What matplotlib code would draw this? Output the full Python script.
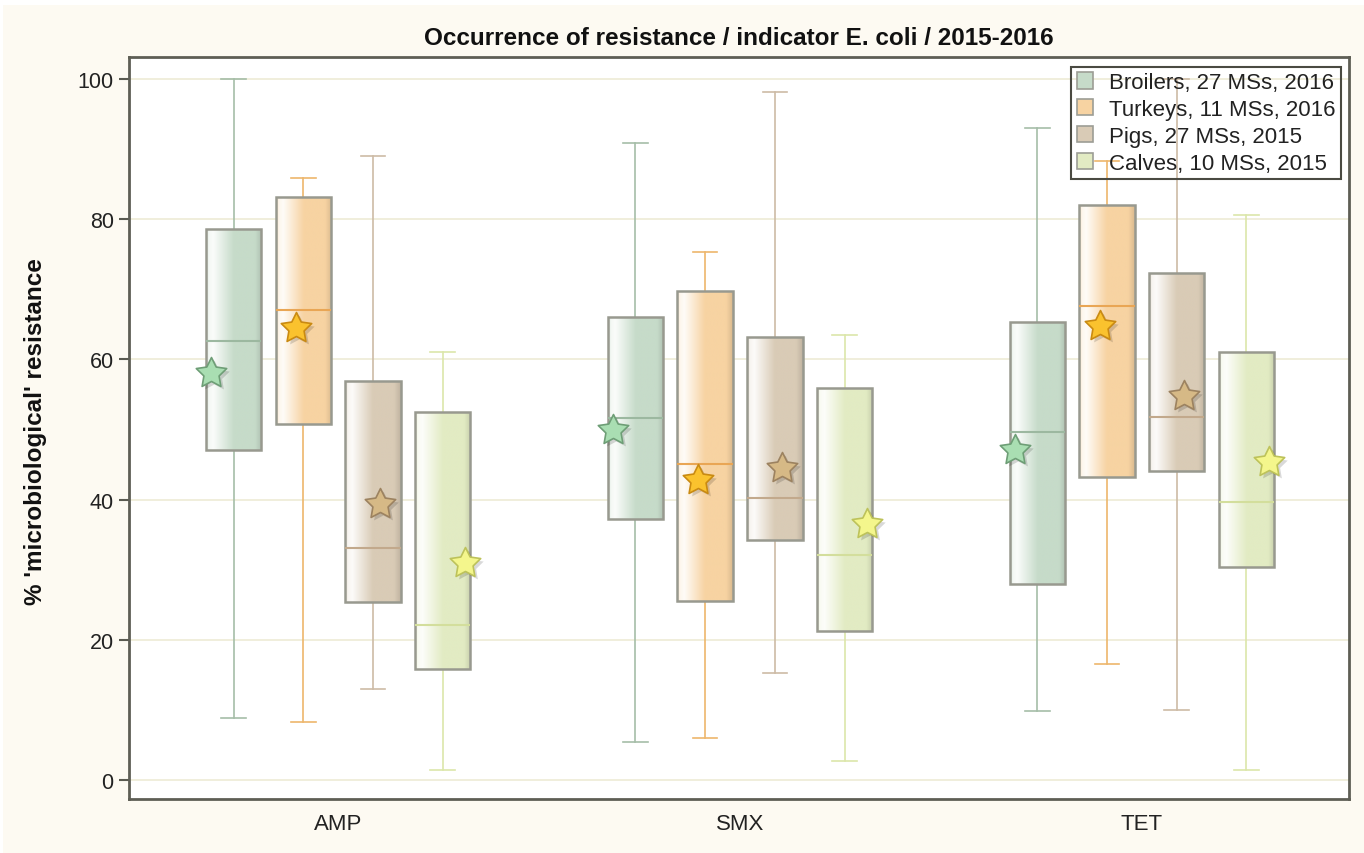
import numpy as np
import matplotlib
matplotlib.use("Agg")
import matplotlib.pyplot as plt
from matplotlib.colors import to_rgb
from matplotlib.patches import Rectangle, Patch
from matplotlib.path import Path
from matplotlib import transforms

plt.rcParams['font.family'] = ['Liberation Sans', 'DejaVu Sans']

categories = ['AMP', 'SMX', 'TET']
series = ['Broilers, 27 MSs, 2016', 'Turkeys, 11 MSs, 2016',
          'Pigs, 27 MSs, 2015', 'Calves, 10 MSs, 2015']

broilers_lo = [8.8, 5.4, 9.8]
broilers_q1 = [47.1, 37.2, 28.0]
broilers_med = [62.6, 51.6, 49.6]
broilers_q3 = [78.6, 66.0, 65.3]
broilers_hi = [100.0, 90.9, 93.0]
broilers_mean = [58.1, 49.9, 47.1]

turkeys_lo = [8.3, 6.0, 16.5]
turkeys_q1 = [50.8, 25.5, 43.2]
turkeys_med = [67.0, 45.1, 67.6]
turkeys_q3 = [83.2, 69.8, 82.0]
turkeys_hi = [85.9, 75.3, 88.3]
turkeys_mean = [64.5, 42.8, 64.8]

pigs_lo = [13.0, 15.3, 10.0]
pigs_q1 = [25.4, 34.2, 44.1]
pigs_med = [33.1, 40.2, 51.8]
pigs_q3 = [56.9, 63.2, 72.3]
pigs_hi = [89.0, 98.1, 100.0]
pigs_mean = [39.4, 44.5, 54.8]

calves_lo = [1.4, 2.7, 1.4]
calves_q1 = [15.8, 21.3, 30.4]
calves_med = [22.1, 32.1, 39.7]
calves_q3 = [52.5, 55.9, 61.1]
calves_hi = [61.1, 63.5, 80.6]
calves_mean = [31.0, 36.5, 45.4]

data = [
    (broilers_lo, broilers_q1, broilers_med, broilers_q3, broilers_hi, broilers_mean),
    (turkeys_lo, turkeys_q1, turkeys_med, turkeys_q3, turkeys_hi, turkeys_mean),
    (pigs_lo, pigs_q1, pigs_med, pigs_q3, pigs_hi, pigs_mean),
    (calves_lo, calves_q1, calves_med, calves_q3, calves_hi, calves_mean),
]

fills = ['#C6DBC9', '#F7D3A2', '#D9CBB6', '#E2EBC3']
medcols = ['#9CB8A0', '#E9A655', '#C2A98C', '#D3DE9C']
whiskcols = ['#A5BDA8', '#EDB66C', '#CDBBA6', '#DCE6AA']
starfill = ['#A9DEB2', '#FAC22E', '#D6B986', '#F4F68C']
staredge = ['#6E9E76', '#C98A12', '#9C8260', '#BDC25A']

box_off = [-0.26, -0.087, 0.087, 0.26]
star_off = [-0.316, -0.105, 0.105, 0.315]
box_w = 0.137

# fat five-pointed star marker
ang = np.pi / 2 + np.arange(10) * np.pi / 5
rad = np.where(np.arange(10) % 2 == 0, 1.0, 0.5)
verts = np.column_stack([rad * np.cos(ang), rad * np.sin(ang)])
verts = np.vstack([verts, verts[:1]])
star = Path(verts, [Path.MOVETO] + [Path.LINETO] * 9 + [Path.CLOSEPOLY])

bg = '#FDFAF2'
fig = plt.figure(figsize=(13.64, 8.54), dpi=100, facecolor='white')
fig.patches.append(Rectangle((3 / 1364, 0), 1, 1 - 6 / 854, transform=fig.transFigure,
                             facecolor=bg, edgecolor='none', zorder=-10))
ax = fig.add_axes([129 / 1364, 54 / 854, 1220 / 1364, 742 / 854])
ax.set_facecolor('white')

ax.set_xlim(-0.52, 2.515)
ax.set_ylim(-2.7, 103.1)
ax.set_yticks([0, 20, 40, 60, 80, 100])
ax.grid(axis='y', color='#EEEBD6', lw=1.2, zorder=0)
ax.set_axisbelow(True)
ax.set_xticks(range(len(categories)))
ax.set_xticklabels(categories)
ax.tick_params(axis='x', length=0, labelsize=16, pad=10, labelcolor='#222222')
ax.tick_params(axis='y', length=7, width=1.5, color='#5A5A50', labelsize=15.5,
               labelcolor='#222222', pad=4)
for s in ax.spines.values():
    s.set_color('#5E5E55')
    s.set_linewidth(2)

xs = np.arange(len(categories))
for si, (lo, q1, med, q3, hi, mean) in enumerate(data):
    stats = [dict(whislo=lo[i], q1=q1[i], med=med[i], q3=q3[i], whishi=hi[i], fliers=[])
             for i in range(len(categories))]
    pos = xs + box_off[si]
    bp = ax.bxp(stats, positions=pos, widths=box_w, capwidths=0.062, patch_artist=True,
                showfliers=False, manage_ticks=False,
                boxprops=dict(facecolor=fills[si], edgecolor='#98998F', linewidth=1.8),
                medianprops=dict(color=medcols[si], linewidth=1.5),
                whiskerprops=dict(color=whiskcols[si], linewidth=1.2),
                capprops=dict(color=whiskcols[si], linewidth=1.2), zorder=3)
    c = np.array(to_rgb(fills[si]))
    t = np.linspace(0, 1, 200)
    w = np.interp(t, [0, 0.05, 0.13, 0.5, 0.88, 1.0], [0.3, 0.8, 0.92, 0.0, 0.0, -0.12])
    grad = np.array([c + (1 - c) * wi if wi >= 0 else c * (1 + wi) for wi in w])
    grad = np.clip(grad, 0, 1)[None, :, :]
    for i, b in enumerate(bp['boxes']):
        x0 = pos[i] - box_w / 2
        im = ax.imshow(grad, extent=[x0, x0 + box_w, q1[i], q3[i]], aspect='auto',
                       zorder=3.2, interpolation='bilinear')
        im.set_clip_path(b)
        b.set_facecolor('none')
        b.set_zorder(3.5)
    for m in bp['medians']:
        m.set_zorder(3.6)
    sx = xs + star_off[si]
    shadow_tr = transforms.offset_copy(ax.transData, fig=fig, x=3, y=-3, units='dots')
    ax.plot(sx, mean, ls='none', marker=star, ms=23, color='#000000', alpha=0.15,
            mec='none', transform=shadow_tr, zorder=4)
    ax.plot(sx, mean, ls='none', marker=star, ms=23, mfc=starfill[si], mec=staredge[si],
            mew=1.2, zorder=5)

handles = [Patch(facecolor=fills[i], edgecolor='#9C9D95', linewidth=1.2) for i in range(4)]
leg = ax.legend(handles, series, loc='upper right', bbox_to_anchor=(0.9935, 0.987),
                fontsize=16, frameon=True, fancybox=False,
                handlelength=0.75, handleheight=0.75, handletextpad=0.7,
                labelspacing=0.26, borderpad=0.25, borderaxespad=0)
fr = leg.get_frame()
fr.set_facecolor('none')
fr.set_alpha(1)
fr.set_edgecolor('#4A4A42')
fr.set_linewidth(1.5)
for t in leg.get_texts():
    t.set_color('#222222')

fig.text((129 + 1349) / 2 / 1364, 1 - 38.5 / 854, 'Occurrence of resistance / indicator E. coli / 2015-2016',
         ha='center', va='center', fontsize=17.5, fontweight='bold', color='#111111')
fig.text(36 / 1364, 1 - 432 / 854, "% 'microbiological' resistance", rotation=90,
         ha='center', va='center', fontsize=17.5, fontweight='bold', color='#111111')

fig.savefig('out.png', dpi=100, facecolor=fig.get_facecolor())
